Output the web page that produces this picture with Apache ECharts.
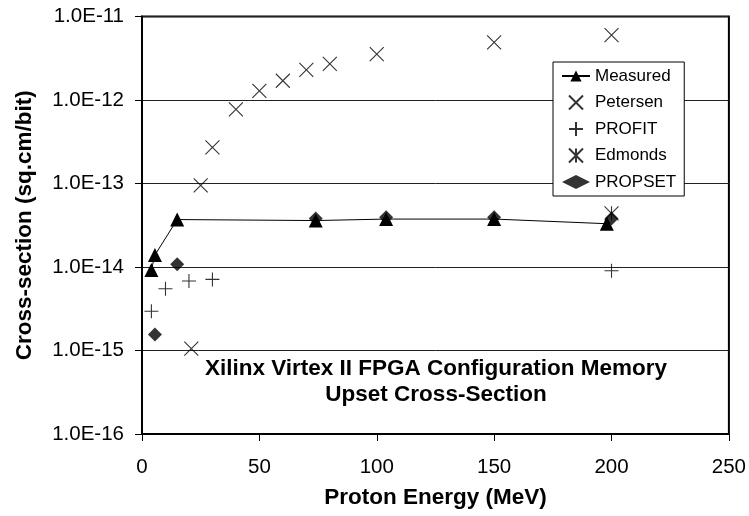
<!DOCTYPE html>
<html>
<head>
<meta charset="utf-8">
<script src="https://cdn.jsdelivr.net/npm/echarts@6/dist/echarts.min.js"></script>
<style>
    html, body { margin: 0; padding: 0; background: #fff; }
    #chart { width: 749px; height: 516px; }
</style>
</head>
<body>
<div id="chart"></div>
<script>
var xTicks = [0, 50, 100, 150, 200, 250];
var yTicks = [1e-16, 1e-15, 1e-14, 1e-13, 1e-12, 1e-11];

var measuredX = [4, 5.5, 15, 74, 104, 150, 198];
var measuredY = [9.2e-15, 1.39e-14, 3.7e-14, 3.6e-14, 3.75e-14, 3.75e-14, 3.3e-14];

var petersenX = [21, 25, 30, 40, 50, 60, 70, 80, 100, 150, 200];
var petersenY = [1.05e-15, 9.5e-14, 2.7e-13, 7.7e-13, 1.29e-12, 1.7e-12, 2.3e-12, 2.7e-12, 3.55e-12, 4.9e-12, 6.0e-12];

var profitX = [4, 10, 20, 30, 200];
var profitY = [2.95e-15, 5.5e-15, 6.8e-15, 7.1e-15, 9.0e-15];

var edmondsX = [200];
var edmondsY = [4.4e-14];

var propsetX = [5.5, 15, 74, 104, 150, 200];
var propsetY = [1.55e-15, 1.08e-14, 3.8e-14, 3.95e-14, 3.95e-14, 3.8e-14];

(function () {
    'use strict';

    var FONT = "'Liberation Sans', Arial, sans-serif";

    var CROSS = 'path://M0,0L10,10M10,0L0,10';
    var PLUS = 'path://M5,0L5,10M0,5L10,5';
    var STAR = 'path://M0,0L10,10M10,0L0,10M5,0L5,10';

    function pairs(xs, ys) {
        var out = [];
        for (var i = 0; i < xs.length; i++) {
            out.push([xs[i], ys[i]]);
        }
        return out;
    }

    function strokeSeries(name, symbol, size, xs, ys) {
        return {
            name: name,
            type: 'scatter',
            symbol: symbol,
            symbolSize: size,
            itemStyle: { color: 'rgba(0,0,0,0)', borderColor: '#000', borderWidth: 1.1 },
            data: pairs(xs, ys)
        };
    }

    var chart = echarts.init(document.getElementById('chart'), null, { renderer: 'canvas' });

    var option = {
        animation: false,
        textStyle: { fontFamily: FONT, color: '#000' },
        grid: {
            left: 142, right: 19, top: 16.5, bottom: 82,
            show: true, borderColor: '#000', borderWidth: 2, backgroundColor: '#fff'
        },
        legend: {
            orient: 'vertical',
            left: 553, top: 62,
            padding: [4, 8, 4, 8],
            itemWidth: 28, itemHeight: 14, itemGap: 6.5,
            backgroundColor: '#fff', borderColor: '#000', borderWidth: 1,
            textStyle: { fontFamily: FONT, fontSize: 17, color: '#000', lineHeight: 20 },
            data: ['Measured', 'Petersen', 'PROFIT', 'Edmonds', 'PROPSET']
        },
        xAxis: {
            type: 'value',
            min: xTicks[0], max: xTicks[xTicks.length - 1], interval: 50,
            name: 'Proton Energy (MeV)',
            nameLocation: 'middle', nameGap: 52,
            nameTextStyle: { fontFamily: FONT, fontSize: 22.5, fontWeight: 'bold', color: '#000' },
            axisLine: { lineStyle: { color: '#000', width: 2 } },
            axisTick: { show: true, inside: false, length: 7, lineStyle: { color: '#000', width: 1 } },
            axisLabel: { fontFamily: FONT, fontSize: 20.5, color: '#000', margin: 23 },
            splitLine: { show: false }
        },
        yAxis: {
            type: 'log', logBase: 10,
            min: yTicks[0], max: yTicks[yTicks.length - 1],
            name: 'Cross-section (sq.cm/bit)',
            nameLocation: 'middle', nameGap: 106,
            nameTextStyle: { fontFamily: FONT, fontSize: 22.5, fontWeight: 'bold', color: '#000' },
            axisLine: { lineStyle: { color: '#000', width: 2 } },
            axisTick: { show: true, inside: false, length: 7, lineStyle: { color: '#000', width: 1 } },
            axisLabel: {
                fontFamily: FONT, fontSize: 20.5, color: '#000', margin: 18,
                formatter: function (v) { return v.toExponential(1).toUpperCase(); }
            },
            minorTick: { show: false },
            splitLine: { show: true, lineStyle: { color: '#222', width: 1 } }
        },
        graphic: [{
            type: 'text',
            x: 436,
            y: 356,
            style: {
                text: 'Xilinx Virtex II FPGA Configuration Memory\nUpset Cross-Section',
                align: 'center',
                fontFamily: FONT, fontSize: 22.5, fontWeight: 'bold',
                lineHeight: 26, fill: '#000'
            }
        }],
        series: [
            {
                name: 'Measured',
                type: 'line',
                symbol: 'triangle',
                symbolSize: 14,
                showAllSymbol: true,
                lineStyle: { color: '#000', width: 1 },
                itemStyle: { color: '#000' },
                data: pairs(measuredX, measuredY),
                z: 2
            },
            strokeSeries('Petersen', CROSS, 14, petersenX, petersenY),
            strokeSeries('PROFIT', PLUS, 14, profitX, profitY),
            strokeSeries('Edmonds', STAR, 14, edmondsX, edmondsY),
            {
                name: 'PROPSET',
                type: 'scatter',
                symbol: 'diamond',
                symbolSize: 14,
                itemStyle: { color: '#000' },
                data: pairs(propsetX, propsetY),
                z: 3
            }
        ]
    };

    chart.setOption(option);
})();
</script>
</body>
</html>
